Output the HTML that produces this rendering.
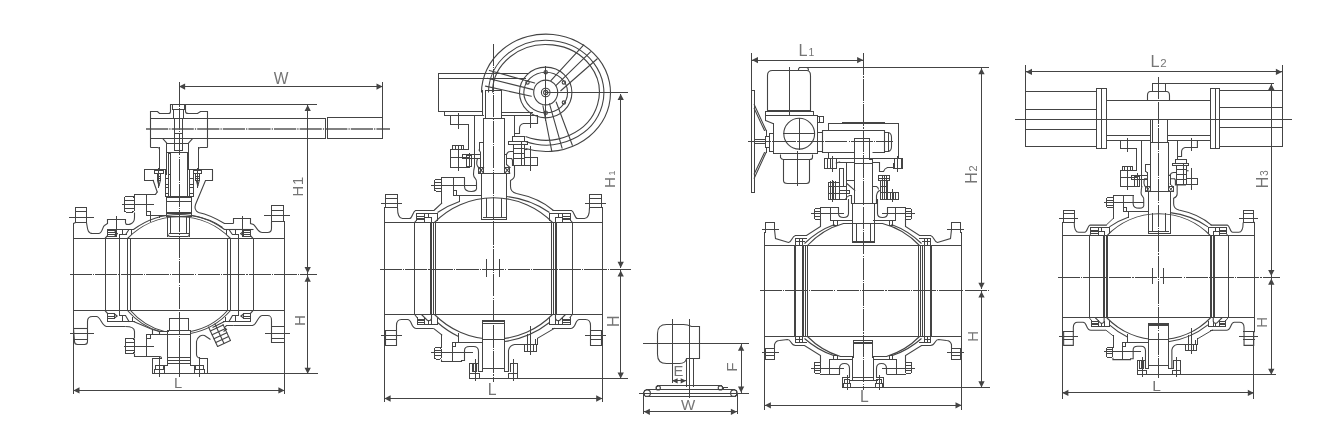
<!DOCTYPE html>
<html><head><meta charset="utf-8"><title>Ball valve dimension drawings</title>
<style>
html,body{margin:0;padding:0;background:#fff;}
body{width:1322px;height:438px;overflow:hidden;font-family:"Liberation Sans",sans-serif;}
svg{display:block;will-change:transform;}
svg *{vector-effect:none;}
.d{fill:none;stroke:#444;stroke-width:1.1;stroke-linecap:butt;stroke-linejoin:miter;}
.d line,.d rect{shape-rendering:crispEdges;stroke-width:1;vector-effect:non-scaling-stroke;stroke-linecap:square;}
.d line.dg{shape-rendering:auto;stroke-linecap:round;stroke-width:1.1;vector-effect:none;}
.d .cl{stroke-dasharray:22.2 1.1 1.2 1.1;stroke-width:1;stroke-linecap:butt;}
.d .ar{fill:#444;stroke:none;}
.d text{fill:#757575;stroke:none;font-family:"Liberation Sans",sans-serif;}
</style></head><body>
<svg width="1322" height="438" viewBox="0 0 1322 438">
<rect x="0" y="0" width="1322" height="438" fill="#fff" stroke="none"/>
<g class="d">
<line class="cl" x1="69.5" y1="274.4" x2="316.7" y2="274.4"/>
<line class="cl" x1="179" y1="82" x2="179" y2="376.5"/>
<line class="cl" x1="146" y1="128.9" x2="390" y2="128.9" style="shape-rendering:auto;stroke-width:1.5;stroke:#585858"/>
<line x1="73.4" y1="238.3" x2="284.5" y2="238.3"/>
<line x1="73.4" y1="310.7" x2="284.5" y2="310.7"/>
<line x1="73.4" y1="223.5" x2="73.4" y2="328.4"/>
<path d="M 73.5 223.5 L 75.5 222.5"/>
<rect x="75" y="207" width="11.5" height="15.4"/>
<line x1="75" y1="211.6" x2="86.5" y2="211.6"/>
<line x1="69.3" y1="217.2" x2="93" y2="217.2"/>
<path d="M 86.5 222.5 C 87.5 228.5 87.5 233.5 92.5 233.5 L 98.5 233.5 C 102.5 233.5 102.5 226.5 104.5 225.5 L 107.5 223.5 L 107.5 219.5 L 125.5 219.5 L 125.5 223.5"/>
<path d="M 73.5 328.5 L 87.5 328.5"/>
<line x1="70.1" y1="333.9" x2="93.9" y2="333.9"/>
<line x1="74" y1="339.3" x2="87.3" y2="339.3"/>
<path d="M 73.5 328.5 L 74.5 341.5 Q 74.5 344.5 77.5 344.5 L 84.5 344.5 Q 87.5 344.5 87.5 341.5 L 87.5 321.5 C 87.5 317.5 89.5 316.5 92.5 316.5 L 96.5 316.5 C 100.5 316.5 101.5 325.5 106.5 326.5 L 125.5 326.5"/>
<line x1="284.5" y1="221.6" x2="284.5" y2="342.5"/>
<rect x="271.7" y="205.5" width="11.9" height="15.8"/>
<line x1="271.7" y1="210.4" x2="283.6" y2="210.4"/>
<line x1="264.2" y1="215.6" x2="289.3" y2="215.6"/>
<line x1="283.6" y1="221.5" x2="284.5" y2="221.8"/>
<path d="M 271.5 221.5 L 271.5 228.5 C 271.5 231.5 270.5 232.5 267.5 232.5 L 262.5 232.5 C 257.5 232.5 256.5 226.5 253.5 224.5 L 250.5 223.5 L 250.5 218.5 L 233.5 218.5 L 233.5 223.5"/>
<line x1="271.3" y1="326.7" x2="284.5" y2="326.7"/>
<line x1="265" y1="333" x2="289.6" y2="333"/>
<line x1="271.3" y1="338.7" x2="284.5" y2="338.7"/>
<path d="M 284.5 342.5 L 271.5 342.5 L 271.5 320.5 C 271.5 316.5 270.5 315.5 267.5 315.5 L 262.5 315.5 C 257.5 315.5 257.5 324.5 252.5 325.5 L 233.5 325.5"/>
<line x1="105" y1="238.3" x2="105" y2="310.7"/>
<line x1="119.6" y1="238.3" x2="119.6" y2="310.7"/>
<line x1="127.5" y1="238.3" x2="127.5" y2="310.7"/>
<line x1="130.1" y1="238.3" x2="130.1" y2="310.7"/>
<line x1="105" y1="238.3" x2="107.2" y2="236" class="dg"/>
<line x1="107.2" y1="236" x2="107.2" y2="229"/>
<line x1="107.2" y1="229" x2="133.5" y2="229"/>
<rect x="107.6" y="230.6" width="7.4" height="6"/>
<line x1="107.6" y1="232.6" x2="115" y2="232.6"/>
<line x1="107.6" y1="234.6" x2="115" y2="234.6"/>
<line x1="115" y1="231.6" x2="117.3" y2="233.6" class="dg"/>
<line x1="117.3" y1="233.6" x2="115" y2="235.6" class="dg"/>
<line x1="116" y1="216.1" x2="116" y2="236"/>
<line x1="119.6" y1="238.3" x2="119.6" y2="234"/>
<line x1="119.6" y1="234" x2="126" y2="234"/>
<line x1="126" y1="234" x2="128.5" y2="230.2" class="dg"/>
<line x1="122.5" y1="229" x2="122.5" y2="234"/>
<line x1="131.5" y1="229.6" x2="131.5" y2="234.5"/>
<line x1="105" y1="310.7" x2="107.2" y2="313" class="dg"/>
<line x1="107.2" y1="313" x2="107.2" y2="321.6"/>
<line x1="107.2" y1="321.6" x2="134.7" y2="321.6"/>
<rect x="107.6" y="313.7" width="6.6" height="4.6"/>
<line x1="107.6" y1="316" x2="114.2" y2="316"/>
<line x1="114.2" y1="313.7" x2="117" y2="316" class="dg"/>
<line x1="117" y1="316" x2="114.2" y2="318.3" class="dg"/>
<line x1="119.6" y1="310.7" x2="119.6" y2="315.5"/>
<line x1="119.6" y1="315.5" x2="125.5" y2="315.5"/>
<line x1="125.5" y1="315.5" x2="129" y2="321.6" class="dg"/>
<line x1="122.5" y1="315.5" x2="122.5" y2="321.6"/>
<line x1="132.6" y1="317.5" x2="132.6" y2="321.6"/>
<g transform="matrix(-1 0 0 1 358 0)">
<line x1="105" y1="238.3" x2="105" y2="310.7"/>
<line x1="119.6" y1="238.3" x2="119.6" y2="310.7"/>
<line x1="127.5" y1="238.3" x2="127.5" y2="310.7"/>
<line x1="130.1" y1="238.3" x2="130.1" y2="310.7"/>
<line x1="105" y1="238.3" x2="107.2" y2="236" class="dg"/>
<line x1="107.2" y1="236" x2="107.2" y2="229"/>
<line x1="107.2" y1="229" x2="133.5" y2="229"/>
<rect x="107.6" y="230.6" width="7.4" height="6"/>
<line x1="107.6" y1="232.6" x2="115" y2="232.6"/>
<line x1="107.6" y1="234.6" x2="115" y2="234.6"/>
<line x1="115" y1="231.6" x2="117.3" y2="233.6" class="dg"/>
<line x1="117.3" y1="233.6" x2="115" y2="235.6" class="dg"/>
<line x1="116" y1="216.1" x2="116" y2="236"/>
<line x1="119.6" y1="238.3" x2="119.6" y2="234"/>
<line x1="119.6" y1="234" x2="126" y2="234"/>
<line x1="126" y1="234" x2="128.5" y2="230.2" class="dg"/>
<line x1="122.5" y1="229" x2="122.5" y2="234"/>
<line x1="131.5" y1="229.6" x2="131.5" y2="234.5"/>
<line x1="105" y1="310.7" x2="107.2" y2="313" class="dg"/>
<line x1="107.2" y1="313" x2="107.2" y2="321.6"/>
<line x1="107.2" y1="321.6" x2="134.7" y2="321.6"/>
<rect x="107.6" y="313.7" width="6.6" height="4.6"/>
<line x1="107.6" y1="316" x2="114.2" y2="316"/>
<line x1="114.2" y1="313.7" x2="117" y2="316" class="dg"/>
<line x1="117" y1="316" x2="114.2" y2="318.3" class="dg"/>
<line x1="119.6" y1="310.7" x2="119.6" y2="315.5"/>
<line x1="119.6" y1="315.5" x2="125.5" y2="315.5"/>
<line x1="125.5" y1="315.5" x2="129" y2="321.6" class="dg"/>
<line x1="122.5" y1="315.5" x2="122.5" y2="321.6"/>
<line x1="132.6" y1="317.5" x2="132.6" y2="321.6"/>
</g>
<path d="M 127.5 238.5 A 72 72 0 0 1 230.5 238.5"/>
<path d="M 133.5 229.5 A 76.5 76.5 0 0 1 224.5 229.5"/>
<path d="M 127.5 310.5 A 68 68 0 0 0 159.5 331.5"/>
<path d="M 130.5 310.5 A 66 66 0 0 0 164.5 331.5"/>
<path d="M 230.5 310.5 A 70 70 0 0 1 190.5 333.5"/>
<path d="M 227.5 310.5 A 66 66 0 0 1 190.5 331.5"/>
<path d="M 133.5 321.5 L 152.5 329.5 L 152.5 334.5 L 146.5 334.5"/>
<path d="M 152.5 329.5 L 159.5 331.5 L 159.5 334.5"/>
<line x1="152.9" y1="334.8" x2="168" y2="334.8"/>
<line x1="159.8" y1="331.4" x2="168" y2="331.4"/>
<path d="M 224.5 321.5 L 212.5 327.5"/>
<path d="M 125.5 223.5 C 127.5 225.5 134.5 224.5 134.5 217.5 L 134.5 212.5"/>
<rect x="124.4" y="196.4" width="9.8" height="15.7" rx="2"/>
<line x1="124.4" y1="200" x2="134.2" y2="200"/>
<line x1="124.4" y1="208.5" x2="134.2" y2="208.5"/>
<line x1="122.9" y1="204.4" x2="153" y2="204.4"/>
<line x1="134.2" y1="196.4" x2="134.2" y2="194.4"/>
<line x1="134.2" y1="194.4" x2="155.5" y2="194.4"/>
<line x1="146.8" y1="194.4" x2="146.8" y2="215.5"/>
<rect x="146.8" y="211.4" width="3.5" height="4.1"/>
<line x1="146.8" y1="215.5" x2="166.6" y2="215.5"/>
<line x1="150.3" y1="215.5" x2="150.3" y2="221"/>
<line x1="159.5" y1="215.5" x2="159.5" y2="217.8"/>
<path d="M 233.5 223.5 L 224.5 223.5 C 214.5 217.5 203.5 213.5 198.5 212.5 C 194.5 210.5 194.5 207.5 195.5 204.5 L 205.5 180.5 L 212.5 180.5 L 212.5 169.5"/>
<path d="M 253.5 229.5 L 224.5 229.5"/>
<path d="M 191.5 215.5 C 203.5 217.5 214.5 221.5 222.5 227.5"/>
<line x1="212.7" y1="169.5" x2="188.5" y2="169.5"/>
<line x1="166.8" y1="169.5" x2="144.4" y2="169.5"/>
<line x1="144.4" y1="169.5" x2="144.4" y2="180.2"/>
<line x1="144.4" y1="180.2" x2="153.1" y2="180.2"/>
<line x1="153.1" y1="180.2" x2="157.2" y2="192" class="dg"/>
<line x1="157.2" y1="192" x2="155.5" y2="194.4" class="dg"/>
<line x1="159.4" y1="147.4" x2="159.4" y2="169.5"/>
<line x1="198.2" y1="147.4" x2="198.2" y2="169.5"/>
<rect x="154.3" y="170" width="9.1" height="3.8"/>
<rect x="157" y="173.8" width="3.9" height="6.5"/>
<line x1="157.5" y1="180.3" x2="158.95" y2="185.8" class="dg"/>
<line x1="158.95" y1="185.8" x2="160.4" y2="180.3" class="dg"/>
<line x1="158.95" y1="168" x2="158.95" y2="187"/>
<line x1="157" y1="176" x2="160.9" y2="176"/>
<line x1="157" y1="178" x2="160.9" y2="178"/>
<rect x="193.6" y="170" width="8" height="3.8"/>
<rect x="195.8" y="173.8" width="4" height="6.5"/>
<line x1="196.3" y1="180.3" x2="197.8" y2="185.8" class="dg"/>
<line x1="197.8" y1="185.8" x2="199.3" y2="180.3" class="dg"/>
<line x1="197.8" y1="168" x2="197.8" y2="187"/>
<line x1="195.8" y1="176" x2="199.8" y2="176"/>
<line x1="195.8" y1="178" x2="199.8" y2="178"/>
<line x1="165" y1="169.5" x2="165" y2="196.6"/>
<line x1="193.2" y1="169.5" x2="193.2" y2="196.6"/>
<line x1="165" y1="178.5" x2="168.5" y2="178.5"/>
<line x1="165" y1="184.5" x2="168.5" y2="184.5"/>
<line x1="165" y1="187.5" x2="168.5" y2="187.5"/>
<line x1="165" y1="193.5" x2="168.5" y2="193.5"/>
<line x1="189.5" y1="178.5" x2="193.2" y2="178.5"/>
<line x1="189.5" y1="184.5" x2="193.2" y2="184.5"/>
<line x1="189.5" y1="187.5" x2="193.2" y2="187.5"/>
<line x1="189.5" y1="193.5" x2="193.2" y2="193.5"/>
<line x1="168.5" y1="174" x2="168.5" y2="196.6"/>
<line x1="189.5" y1="169.5" x2="189.5" y2="196.6"/>
<line x1="170.8" y1="152" x2="170.8" y2="196.6"/>
<line x1="187.6" y1="152" x2="187.6" y2="196.6"/>
<line x1="165" y1="196.6" x2="193.2" y2="196.6"/>
<rect x="168.5" y="153.1" width="2.3" height="21"/>
<line x1="166.8" y1="143.2" x2="166.8" y2="174.2"/>
<line x1="188.5" y1="143.2" x2="188.5" y2="169.5"/>
<line x1="166.8" y1="152" x2="188.5" y2="152"/>
<rect x="166.6" y="197.3" width="24.8" height="16.5"/>
<line x1="166.6" y1="201.3" x2="191.4" y2="201.3"/>
<line x1="166.6" y1="212.7" x2="191.4" y2="212.7"/>
<rect x="166.6" y="213.8" width="24.8" height="2.9"/>
<line x1="167.7" y1="216.7" x2="167.7" y2="236.7"/>
<line x1="189.7" y1="216.7" x2="189.7" y2="236.7"/>
<line x1="170.8" y1="216.7" x2="170.8" y2="233.5"/>
<line x1="186.4" y1="216.7" x2="186.4" y2="233.5"/>
<path d="M 167.5 232.5 Q 167.5 236.5 170.5 236.5 L 187.5 236.5 Q 189.5 236.5 189.5 232.5"/>
<line x1="169" y1="233.5" x2="188.4" y2="233.5"/>
<path d="M 150.5 147.5 L 150.5 111.5 L 157.5 111.5 L 159.5 113.5 L 168.5 113.5 Q 170.5 113.5 170.5 111.5 L 170.5 104.5 L 185.5 104.5 L 185.5 111.5 Q 185.5 113.5 188.5 113.5 L 197.5 113.5 L 200.5 111.5 L 207.5 111.5 L 207.5 147.5"/>
<path d="M 150.5 147.5 L 157.5 147.5 Q 159.5 147.5 159.5 149.5"/>
<path d="M 207.5 147.5 L 200.5 147.5 Q 198.5 147.5 198.5 149.5"/>
<line x1="150" y1="118.8" x2="325.4" y2="118.8"/>
<line x1="150" y1="138.7" x2="325.4" y2="138.7"/>
<line x1="325.4" y1="118.8" x2="325.4" y2="138.7"/>
<rect x="327.6" y="117.8" width="55.3" height="20.6"/>
<line x1="162.8" y1="138.7" x2="166.8" y2="143.2" class="dg"/>
<line x1="166.8" y1="143.2" x2="188.5" y2="143.2"/>
<line x1="188.5" y1="143.2" x2="192.5" y2="138.7" class="dg"/>
<line x1="172.4" y1="104.6" x2="172.4" y2="109.8"/>
<line x1="172.4" y1="109.8" x2="184.3" y2="109.8"/>
<line x1="184.3" y1="109.8" x2="184.3" y2="104.6"/>
<line x1="173.6" y1="109.8" x2="173.6" y2="118.6"/>
<line x1="173.6" y1="118.6" x2="183" y2="118.6"/>
<line x1="183" y1="118.6" x2="183" y2="109.8"/>
<line x1="174.8" y1="118.6" x2="174.8" y2="150.5"/>
<line x1="182.3" y1="118.6" x2="182.3" y2="150.5"/>
<line x1="174.8" y1="150.5" x2="182.3" y2="150.5"/>
<line x1="174.8" y1="133" x2="182.3" y2="133"/>
<line x1="170.5" y1="104.6" x2="316.7" y2="104.6"/>
<rect x="169.6" y="318.6" width="18.8" height="12.2"/>
<line x1="167.3" y1="330.8" x2="190.6" y2="330.8"/>
<line x1="167.3" y1="330.8" x2="167.3" y2="365.3"/>
<line x1="190.6" y1="330.8" x2="190.6" y2="365.3"/>
<line x1="167.3" y1="334.9" x2="190.6" y2="334.9"/>
<line x1="167.3" y1="357.3" x2="190.6" y2="357.3"/>
<line x1="167.3" y1="360.3" x2="190.6" y2="360.3"/>
<line x1="167.3" y1="363" x2="190.6" y2="363"/>
<line x1="161.3" y1="358.4" x2="152.5" y2="358.4"/>
<line x1="152.5" y1="358.4" x2="152.5" y2="373.8"/>
<line x1="167.3" y1="365.3" x2="164" y2="365.3"/>
<line x1="164" y1="365.3" x2="164" y2="373.8"/>
<line x1="190.6" y1="365.3" x2="194.8" y2="365.3"/>
<line x1="194.8" y1="365.3" x2="194.8" y2="373.8"/>
<line x1="200" y1="358.4" x2="207.4" y2="358.4"/>
<line x1="207.4" y1="358.4" x2="207.4" y2="373.8"/>
<line x1="152.5" y1="373.8" x2="317.4" y2="373.8"/>
<rect x="155.7" y="365.6" width="7.4" height="3.6"/>
<rect x="154.1" y="369.2" width="10.6" height="4.2"/>
<line x1="159.4" y1="357.3" x2="159.4" y2="376.7"/>
<rect x="195.9" y="365.6" width="7.4" height="3.6"/>
<rect x="194.3" y="369.2" width="10.6" height="4.2"/>
<line x1="199.6" y1="357.3" x2="199.6" y2="376.7"/>
<path d="M 125.5 326.5 C 131.5 326.5 134.5 327.5 134.5 331.5 L 134.5 338.5"/>
<rect x="125.2" y="338.4" width="9" height="15.4" rx="2"/>
<line x1="125.2" y1="342" x2="134.2" y2="342"/>
<line x1="125.2" y1="350.2" x2="134.2" y2="350.2"/>
<line x1="124.4" y1="346.2" x2="153.6" y2="346.2"/>
<path d="M 134.5 353.5 L 134.5 356.5 L 159.5 356.5 Q 161.5 356.5 161.5 358.5"/>
<line x1="146.7" y1="334.8" x2="146.7" y2="356.1"/>
<rect x="146.7" y="334.8" width="3.8" height="3.8"/>
<path d="M 207.5 358.5 L 200.5 358.5 Q 196.5 357.5 196.5 354.5 L 196.5 341.5 C 197.5 336.5 201.5 334.5 204.5 335.5 L 210.5 339.5"/>
<path d="M 233.5 325.5 L 226.5 325.5 L 224.5 327.5 L 226.5 329.5 L 223.5 331.5"/>
<line x1="208.5" y1="327" x2="217.59" y2="346.49" class="dg"/>
<line x1="217.59" y1="346.49" x2="230.46" y2="340.48" class="dg"/>
<line x1="230.46" y1="340.48" x2="223.06" y2="324.62" class="dg"/>
<line x1="214.93" y1="324" x2="224.02" y2="343.49" class="dg"/>
<line x1="210.32" y1="330.9" x2="223.19" y2="324.9" class="dg"/>
<line x1="212.13" y1="334.79" x2="225" y2="328.79" class="dg"/>
<line x1="213.95" y1="338.69" x2="226.82" y2="332.69" class="dg"/>
<line x1="215.77" y1="342.59" x2="228.64" y2="336.59" class="dg"/>
<line x1="179" y1="82" x2="179" y2="104"/>
<line x1="382.6" y1="82" x2="382.6" y2="138.4"/>
<line x1="179" y1="86.6" x2="382.6" y2="86.6"/>
<polygon class="ar" points="179,86.6 185.1,83.45 185.1,89.75"/>
<polygon class="ar" points="382.6,86.6 376.5,83.45 376.5,89.75"/>
<text transform="translate(281.2 84) scale(0.95 1)" font-size="16.4" text-anchor="middle">W</text>
<line x1="307.7" y1="105" x2="307.7" y2="273.2"/>
<polygon class="ar" points="307.7,105 304.55,111.1 310.85,111.1"/>
<polygon class="ar" points="307.7,273.2 304.55,267.1 310.85,267.1"/>
<line x1="307.7" y1="275.7" x2="307.7" y2="373.8"/>
<polygon class="ar" points="307.7,275.7 304.55,281.8 310.85,281.8"/>
<polygon class="ar" points="307.7,373.8 304.55,367.7 310.85,367.7"/>
<text transform="translate(302.8 191.2) rotate(-90) scale(1 1)" font-size="14.7" text-anchor="middle">H</text>
<text transform="translate(302.8 180.9) rotate(-90)" font-size="14.7" text-anchor="middle">1</text>
<text transform="translate(305.1 320.4) rotate(-90) scale(1 1)" font-size="15.2" text-anchor="middle">H</text>
<line x1="73.4" y1="328.4" x2="73.4" y2="393.4"/>
<line x1="284.5" y1="342.5" x2="284.5" y2="393.4"/>
<line x1="73.4" y1="390.4" x2="284.5" y2="390.4"/>
<polygon class="ar" points="73.4,390.4 79.5,387.25 79.5,393.55"/>
<polygon class="ar" points="284.5,390.4 278.4,387.25 278.4,393.55"/>
<text transform="translate(178 388) scale(1 1)" font-size="14.7" text-anchor="middle">L</text>
<g>
<line x1="384.5" y1="222.3" x2="602.3" y2="222.3"/>
<line x1="384.5" y1="314.5" x2="602.3" y2="314.5"/>
<line x1="384.5" y1="207.5" x2="384.5" y2="330.3"/>
<rect x="385.5" y="194" width="11.8" height="13.5"/>
<line x1="385.5" y1="198" x2="397.3" y2="198"/>
<line x1="381.3" y1="203.3" x2="401.5" y2="203.3"/>
<path d="M 384.5 207.5 L 385.5 207.5"/>
<path d="M 397.5 207.5 C 397.5 213.5 398.5 218.5 402.5 218.5 L 409.5 218.5 C 412.5 218.5 412.5 211.5 415.5 210.5 L 434.5 210.5"/>
<line x1="384.5" y1="330.3" x2="396.7" y2="330.3"/>
<line x1="381.3" y1="335.5" x2="401.5" y2="335.5"/>
<line x1="385" y1="339.3" x2="396.7" y2="339.3"/>
<path d="M 384.5 330.5 L 385.5 330.5 L 385.5 345.5 L 396.5 345.5 L 396.5 325.5 C 396.5 321.5 398.5 319.5 401.5 319.5 L 407.5 319.5 C 412.5 319.5 410.5 328.5 416.5 328.5 L 433.5 328.5"/>
<line x1="414.7" y1="222.3" x2="414.7" y2="314.5"/>
<line x1="430.4" y1="222.3" x2="430.4" y2="314.5"/>
<line x1="431.7" y1="222.3" x2="431.7" y2="314.5"/>
<line x1="433.8" y1="222.3" x2="433.8" y2="314.5"/>
<line x1="435.1" y1="222.3" x2="435.1" y2="314.5"/>
<line x1="414.7" y1="222.3" x2="416.3" y2="220.5" class="dg"/>
<line x1="416.3" y1="220.5" x2="416.3" y2="213.3"/>
<line x1="416.3" y1="213.3" x2="437.2" y2="213.3"/>
<line x1="437.2" y1="213.3" x2="437.2" y2="220"/>
<line x1="416.6" y1="216.2" x2="424.7" y2="216.2"/>
<line x1="416.6" y1="218" x2="424.7" y2="218"/>
<line x1="416.6" y1="219.8" x2="424.7" y2="219.8"/>
<line x1="424.7" y1="213.3" x2="424.7" y2="222.3"/>
<line x1="424.7" y1="217.3" x2="431.5" y2="217.3"/>
<line x1="431.5" y1="217.3" x2="431.5" y2="222.3"/>
<line x1="428.5" y1="213.3" x2="428.5" y2="217.3"/>
<line x1="414.7" y1="314.5" x2="417" y2="317.5" class="dg"/>
<line x1="417" y1="317.5" x2="417" y2="324.4"/>
<line x1="417" y1="324.4" x2="437.2" y2="324.4"/>
<line x1="437.2" y1="324.4" x2="437.2" y2="318.5"/>
<line x1="417" y1="319" x2="424.7" y2="319"/>
<line x1="417" y1="320.8" x2="424.7" y2="320.8"/>
<line x1="417" y1="322.6" x2="424.7" y2="322.6"/>
<line x1="424.7" y1="317.5" x2="424.7" y2="324.4"/>
<path d="M 421.5 314.5 L 424.5 317.5 L 427.5 320.5 Q 430.5 321.5 431.5 318.5 L 431.5 314.5"/>
<line x1="428.5" y1="320.6" x2="428.5" y2="324.4"/>
<line x1="431.7" y1="318.5" x2="431.7" y2="324.4"/>
<g transform="matrix(-1 0 0 1 987 0)">
<line x1="384.5" y1="207.5" x2="384.5" y2="330.3"/>
<rect x="385.5" y="194" width="11.8" height="13.5"/>
<line x1="385.5" y1="198" x2="397.3" y2="198"/>
<line x1="381.3" y1="203.3" x2="401.5" y2="203.3"/>
<path d="M 384.5 207.5 L 385.5 207.5"/>
<path d="M 397.5 207.5 C 397.5 213.5 398.5 218.5 402.5 218.5 L 409.5 218.5 C 412.5 218.5 412.5 211.5 415.5 210.5 L 434.5 210.5"/>
<line x1="384.5" y1="330.3" x2="396.7" y2="330.3"/>
<line x1="381.3" y1="335.5" x2="401.5" y2="335.5"/>
<line x1="385" y1="339.3" x2="396.7" y2="339.3"/>
<path d="M 384.5 330.5 L 385.5 330.5 L 385.5 345.5 L 396.5 345.5 L 396.5 325.5 C 396.5 321.5 398.5 319.5 401.5 319.5 L 407.5 319.5 C 412.5 319.5 410.5 328.5 416.5 328.5 L 433.5 328.5"/>
<line x1="414.7" y1="222.3" x2="414.7" y2="314.5"/>
<line x1="430.4" y1="222.3" x2="430.4" y2="314.5"/>
<line x1="431.7" y1="222.3" x2="431.7" y2="314.5"/>
<line x1="433.8" y1="222.3" x2="433.8" y2="314.5"/>
<line x1="435.1" y1="222.3" x2="435.1" y2="314.5"/>
<line x1="414.7" y1="222.3" x2="416.3" y2="220.5" class="dg"/>
<line x1="416.3" y1="220.5" x2="416.3" y2="213.3"/>
<line x1="416.3" y1="213.3" x2="437.2" y2="213.3"/>
<line x1="437.2" y1="213.3" x2="437.2" y2="220"/>
<line x1="416.6" y1="216.2" x2="424.7" y2="216.2"/>
<line x1="416.6" y1="218" x2="424.7" y2="218"/>
<line x1="416.6" y1="219.8" x2="424.7" y2="219.8"/>
<line x1="424.7" y1="213.3" x2="424.7" y2="222.3"/>
<line x1="424.7" y1="217.3" x2="431.5" y2="217.3"/>
<line x1="431.5" y1="217.3" x2="431.5" y2="222.3"/>
<line x1="428.5" y1="213.3" x2="428.5" y2="217.3"/>
<line x1="414.7" y1="314.5" x2="417" y2="317.5" class="dg"/>
<line x1="417" y1="317.5" x2="417" y2="324.4"/>
<line x1="417" y1="324.4" x2="437.2" y2="324.4"/>
<line x1="437.2" y1="324.4" x2="437.2" y2="318.5"/>
<line x1="417" y1="319" x2="424.7" y2="319"/>
<line x1="417" y1="320.8" x2="424.7" y2="320.8"/>
<line x1="417" y1="322.6" x2="424.7" y2="322.6"/>
<line x1="424.7" y1="317.5" x2="424.7" y2="324.4"/>
<path d="M 421.5 314.5 L 424.5 317.5 L 427.5 320.5 Q 430.5 321.5 431.5 318.5 L 431.5 314.5"/>
<line x1="428.5" y1="320.6" x2="428.5" y2="324.4"/>
<line x1="431.7" y1="318.5" x2="431.7" y2="324.4"/>
</g>
<line x1="486.8" y1="259" x2="486.8" y2="276.6"/>
<line x1="499.3" y1="259" x2="499.3" y2="276.6"/>
<path d="M 434.5 222.5 A 82.8 82.8 0 0 1 552.5 222.5"/>
<path d="M 434.5 314.5 A 82.8 82.8 0 0 0 552.5 314.5"/>
<line x1="434.4" y1="210" x2="441.8" y2="203.1" class="dg"/>
<line x1="441.8" y1="203.1" x2="441.8" y2="191.1"/>
<rect x="434.4" y="179.7" width="7.4" height="11.4" rx="1.5"/>
<line x1="434.4" y1="182.5" x2="441.8" y2="182.5"/>
<line x1="434.4" y1="188.3" x2="441.8" y2="188.3"/>
<line x1="431.9" y1="185.3" x2="476.6" y2="185.3"/>
<line x1="441.8" y1="179.7" x2="441.8" y2="177.4"/>
<line x1="441.8" y1="177.4" x2="464.6" y2="177.4"/>
<line x1="453.2" y1="177.4" x2="453.2" y2="195.3"/>
<rect x="453.2" y="190.6" width="3.4" height="4.7"/>
<line x1="453.2" y1="195.3" x2="481.5" y2="195.3"/>
<line x1="459.5" y1="195.3" x2="459.5" y2="201.5"/>
<rect x="482.3" y="320.4" width="22.5" height="48" fill="#fff" stroke="none"/>
<line x1="482.3" y1="368.3" x2="482.3" y2="320.4"/>
<line x1="482.3" y1="320.4" x2="504.8" y2="320.4"/>
<line x1="504.8" y1="320.4" x2="504.8" y2="368.3"/>
<line x1="482.3" y1="321.8" x2="504.8" y2="321.8"/>
<line x1="482.3" y1="323.5" x2="504.8" y2="323.5"/>
<line x1="482.3" y1="339.3" x2="504.8" y2="339.3"/>
<line x1="482.3" y1="368.3" x2="504.8" y2="368.3"/>
<line x1="433.8" y1="328.6" x2="441.8" y2="334.9" class="dg"/>
<line x1="441.8" y1="334.9" x2="441.8" y2="347.6"/>
<rect x="434.6" y="347.6" width="6.6" height="11.4" rx="1.5"/>
<line x1="434.6" y1="350.4" x2="441.2" y2="350.4"/>
<line x1="434.6" y1="355" x2="441.2" y2="355"/>
<line x1="431.7" y1="352.7" x2="472.8" y2="352.7"/>
<path d="M 441.5 359.5 L 441.5 361.5 L 461.5 361.5 L 461.5 360.5 L 464.5 360.5 L 464.5 350.5 Q 464.5 346.5 469.5 346.5 L 473.5 346.5 Q 478.5 346.5 478.5 351.5 L 478.5 371.5"/>
<line x1="458.4" y1="333.8" x2="458.4" y2="342.2"/>
<path d="M 437.5 212.5 A 94.3 94.3 0 0 1 459.5 201.5"/>
<path d="M 549.5 212.5 A 94.3 94.3 0 0 0 506.5 196.5"/>
<path d="M 437.5 322.5 A 94.3 94.3 0 0 0 458.5 336.5"/>
<path d="M 549.5 322.5 A 94.3 94.3 0 0 1 504.5 341.5"/>
<line x1="452.3" y1="342.2" x2="482.3" y2="342.2"/>
<line x1="452.3" y1="342.2" x2="452.3" y2="361.3"/>
<rect x="452.3" y="342.2" width="3.6" height="4.4"/>
<line x1="478" y1="363" x2="469.4" y2="363"/>
<line x1="469.4" y1="363" x2="469.4" y2="378.7"/>
<line x1="478" y1="371.5" x2="482.3" y2="371.5"/>
<line x1="482.3" y1="368.3" x2="482.3" y2="371.5"/>
<line x1="504.8" y1="368.3" x2="504.8" y2="371.5"/>
<line x1="504.8" y1="371.5" x2="508.8" y2="371.5"/>
<rect x="472.2" y="363" width="4.6" height="8.5"/>
<line x1="473.7" y1="363" x2="473.7" y2="371.5"/>
<line x1="475.2" y1="363" x2="475.2" y2="371.5"/>
<rect x="469.4" y="373.8" width="10.3" height="4.9"/>
<line x1="475.1" y1="359" x2="475.1" y2="380.7"/>
<path d="M 508.5 371.5 L 508.5 350.5 Q 509.5 345.5 514.5 344.5 L 524.5 344.5"/>
<line x1="510.5" y1="363" x2="517.9" y2="363"/>
<line x1="517.9" y1="363" x2="517.9" y2="378.7"/>
<line x1="510.5" y1="363" x2="510.5" y2="371.5"/>
<rect x="508.8" y="373.8" width="9.1" height="4.9"/>
<line x1="513.4" y1="359" x2="513.4" y2="380.7"/>
<line x1="469.4" y1="378.7" x2="517.9" y2="378.7"/>
<line x1="552.2" y1="328.6" x2="554.4" y2="328.4"/>
<line x1="554.4" y1="328.4" x2="537.8" y2="338.1" class="dg"/>
<line x1="537.8" y1="338.1" x2="537.8" y2="344.4"/>
<line x1="527.2" y1="334.5" x2="527.2" y2="344.4"/>
<line x1="535" y1="339.5" x2="535" y2="344.4"/>
<rect x="524.1" y="344.4" width="12.6" height="7.4" rx="1.5"/>
<line x1="527.2" y1="344.4" x2="527.2" y2="351.8"/>
<line x1="533.6" y1="344.4" x2="533.6" y2="351.8"/>
<line x1="530.4" y1="326.1" x2="530.4" y2="354.1"/>
</g>
<line class="cl" x1="379.5" y1="269.1" x2="631.2" y2="269.1"/>
<line class="cl" x1="493.3" y1="43.8" x2="493.3" y2="381.5"/>
<line x1="482" y1="111.5" x2="438.3" y2="111.5"/>
<line x1="438.3" y1="111.5" x2="438.3" y2="73.4"/>
<line x1="438.3" y1="73.4" x2="527" y2="73.4"/>
<line x1="438.3" y1="78.2" x2="525.5" y2="78.2"/>
<line x1="482" y1="90.3" x2="482" y2="115.4"/>
<line x1="444.3" y1="111.5" x2="444.3" y2="115.4"/>
<line x1="444.3" y1="115.4" x2="483.7" y2="115.4"/>
<line x1="502.5" y1="112.3" x2="532" y2="112.3"/>
<line x1="502.5" y1="115.4" x2="537.9" y2="115.4"/>
<line x1="485" y1="118" x2="485" y2="90.3"/>
<line x1="485" y1="90.3" x2="501.8" y2="90.3"/>
<line x1="501.8" y1="90.3" x2="501.8" y2="118"/>
<line x1="450.6" y1="115.4" x2="450.6" y2="124.5"/>
<line x1="450.6" y1="124.5" x2="468.8" y2="124.5"/>
<line x1="468.8" y1="124.5" x2="468.8" y2="149.7"/>
<line x1="468.8" y1="149.7" x2="450.6" y2="149.7"/>
<line x1="450.6" y1="149.7" x2="450.6" y2="167.4"/>
<line x1="450.6" y1="167.4" x2="468.8" y2="167.4"/>
<line x1="474" y1="115.4" x2="474" y2="166.8"/>
<line x1="458.2" y1="113" x2="458.2" y2="128"/>
<path d="M 537.5 115.5 L 537.5 123.5 L 523.5 123.5 Q 519.5 124.5 519.5 128.5 L 519.5 133.5 L 514.5 133.5"/>
<line x1="514.7" y1="115.4" x2="514.7" y2="136.5"/>
<line x1="530.5" y1="113.5" x2="530.5" y2="127"/>
<line x1="483.7" y1="118" x2="504.8" y2="118"/>
<line x1="483.7" y1="118" x2="483.7" y2="173.1"/>
<line x1="504.8" y1="118" x2="504.8" y2="173.1"/>
<line x1="483.7" y1="173.1" x2="504.8" y2="173.1"/>
<line x1="483.7" y1="142" x2="479" y2="142"/>
<line x1="479" y1="142" x2="479" y2="150"/>
<line x1="479" y1="150" x2="480.3" y2="152" class="dg"/>
<line x1="480.3" y1="152" x2="480.3" y2="173.1"/>
<line x1="478.6" y1="173.1" x2="509.9" y2="173.1"/>
<line x1="478.6" y1="167.4" x2="478.6" y2="173.1"/>
<line x1="509.9" y1="167.4" x2="509.9" y2="173.1"/>
<line x1="478.6" y1="167.4" x2="483.7" y2="167.4"/>
<line x1="504.8" y1="167.4" x2="509.9" y2="167.4"/>
<line x1="478.6" y1="167.4" x2="483.7" y2="173.1" class="dg"/>
<line x1="483.7" y1="167.4" x2="478.6" y2="173.1" class="dg"/>
<line x1="504.8" y1="167.4" x2="509.9" y2="173.1" class="dg"/>
<line x1="509.9" y1="167.4" x2="504.8" y2="173.1" class="dg"/>
<line x1="504.8" y1="154.8" x2="506.5" y2="154.8"/>
<line x1="506.5" y1="154.8" x2="506.5" y2="164.5"/>
<line x1="506.5" y1="164.5" x2="509.9" y2="167.4" class="dg"/>
<rect x="462.5" y="154.8" width="17.8" height="4"/>
<rect x="466.5" y="155.8" width="5.2" height="11"/>
<line x1="469.1" y1="153" x2="469.1" y2="167.4"/>
<path d="M 480.5 158.5 L 477.5 158.5 Q 475.5 164.5 478.5 167.5"/>
<rect x="452.3" y="145.1" width="11.4" height="4.6"/>
<line x1="455" y1="145.1" x2="455" y2="149.7"/>
<line x1="458" y1="145.1" x2="458" y2="149.7"/>
<line x1="461" y1="145.1" x2="461" y2="149.7"/>
<line x1="458" y1="149.7" x2="458" y2="170.2"/>
<line x1="450.6" y1="157.1" x2="468.8" y2="157.1"/>
<rect x="512.4" y="136.5" width="12.4" height="4.6"/>
<rect x="508.8" y="141.1" width="18.2" height="3"/>
<rect x="513.9" y="144.1" width="10.9" height="21"/>
<line x1="521.3" y1="141.1" x2="521.3" y2="165.1"/>
<line x1="513.9" y1="148.6" x2="524.8" y2="148.6"/>
<line x1="513.9" y1="153.7" x2="524.8" y2="153.7"/>
<line x1="513.9" y1="158.8" x2="524.8" y2="158.8"/>
<rect x="524.8" y="157.7" width="13.1" height="7.4"/>
<line x1="530.3" y1="146.8" x2="530.3" y2="170.2"/>
<path d="M 504.5 154.5 L 506.5 154.5 Q 507.5 151.5 510.5 151.5 L 513.5 151.5"/>
<path d="M 524.5 149.5 L 527.5 149.5"/>
<path d="M 506.5 158.5 L 511.5 158.5 Q 512.5 159.5 512.5 160.5 L 512.5 165.5 L 524.5 165.5"/>
<path d="M 474.5 166.5 Q 473.5 170.5 473.5 174.5 C 473.5 178.5 477.5 178.5 476.5 182.5 L 476.5 186.5 Q 477.5 191.5 471.5 191.5 Q 464.5 191.5 464.5 186.5 L 464.5 177.5"/>
<path d="M 514.5 165.5 L 514.5 175.5 Q 514.5 178.5 510.5 180.5 L 510.5 186.5 C 510.5 190.5 512.5 192.5 516.5 193.5 C 531.5 196.5 545.5 203.5 553.5 210.5"/>
<line x1="481.5" y1="173.1" x2="481.5" y2="219.5"/>
<line x1="506.5" y1="173.1" x2="506.5" y2="219.5"/>
<line x1="486.3" y1="198" x2="486.3" y2="217.5"/>
<line x1="501.5" y1="198" x2="501.5" y2="217.5"/>
<line x1="481.5" y1="219.5" x2="506.5" y2="219.5"/>
<line x1="483" y1="217.5" x2="505" y2="217.5"/>
<path d="M 481.5 92.5 A 64.50 58.70 0 1 1 525.5 148.5"/>
<path d="M 488.5 92.5 A 57.70 52.30 0 1 1 525.5 141.5"/>
<path d="M 492.5 92.5 A 53.40 47.80 0 1 1 525.5 136.5"/>
<ellipse cx="545.7" cy="92.5" rx="26.2" ry="25.4"/>
<ellipse cx="545.7" cy="92.5" rx="21.9" ry="20.2"/>
<ellipse cx="545.7" cy="92.5" rx="12" ry="12.4"/>
<circle cx="545.7" cy="92.5" r="4.3"/>
<circle cx="545.7" cy="92.5" r="2.1"/>
<circle cx="545.7" cy="72.3" r="1.7"/>
<circle cx="563.89" cy="82.4" r="1.7"/>
<circle cx="563.89" cy="102.6" r="1.7"/>
<circle cx="545.7" cy="112.7" r="1.7"/>
<circle cx="527.51" cy="82.4" r="1.7"/>
<line x1="550.87" y1="80.61" x2="583.76" y2="44.88" class="dg"/>
<line x1="555.82" y1="85.69" x2="590.54" y2="51.82" class="dg"/>
<line x1="560.78" y1="90.77" x2="597.31" y2="58.76" class="dg"/>
<line x1="556.18" y1="102" x2="572.37" y2="145.23" class="dg"/>
<line x1="549.54" y1="103.88" x2="562.07" y2="148.15" class="dg"/>
<line x1="542.91" y1="105.76" x2="551.77" y2="151.06" class="dg"/>
<line x1="531.37" y1="96.24" x2="485.45" y2="86.14" class="dg"/>
<line x1="533.01" y1="89.65" x2="487.41" y2="78.28" class="dg"/>
<line x1="534.66" y1="83.05" x2="489.37" y2="70.42" class="dg"/>
<line x1="545.7" y1="66" x2="545.7" y2="120"/>
<line x1="545.7" y1="92.5" x2="627.4" y2="92.5"/>
<line x1="620.7" y1="94" x2="620.7" y2="267.9"/>
<polygon class="ar" points="620.7,94 617.55,100.1 623.85,100.1"/>
<polygon class="ar" points="620.7,267.9 617.55,261.8 623.85,261.8"/>
<line x1="620.7" y1="270.4" x2="620.7" y2="378.6"/>
<polygon class="ar" points="620.7,270.4 617.55,276.5 623.85,276.5"/>
<polygon class="ar" points="620.7,378.6 617.55,372.5 623.85,372.5"/>
<text transform="translate(615.1 182.5) rotate(-90) scale(1 1)" font-size="15.3" text-anchor="middle">H</text>
<text transform="translate(615.1 173.1) rotate(-90)" font-size="9.6" text-anchor="middle">1</text>
<text transform="translate(618.9 321.3) rotate(-90) scale(1 1)" font-size="16" text-anchor="middle">H</text>
<line x1="384.5" y1="330.3" x2="384.5" y2="401.5"/>
<line x1="602.3" y1="329.5" x2="602.3" y2="401.5"/>
<line x1="384.5" y1="398.5" x2="602.3" y2="398.5"/>
<polygon class="ar" points="384.5,398.5 390.6,395.35 390.6,401.65"/>
<polygon class="ar" points="602.3,398.5 596.2,395.35 596.2,401.65"/>
<text transform="translate(492.1 395.4) scale(1 1)" font-size="15.8" text-anchor="middle">L</text>
<line x1="470.5" y1="378.7" x2="627.4" y2="378.7"/>
<path d="M 699.5 326.5 L 691.5 326.5 Q 687.5 324.5 683.5 324.5 L 666.5 324.5 Q 657.5 324.5 657.5 333.5 L 657.5 354.5 Q 657.5 363.5 666.5 363.5 L 679.5 363.5 Q 685.5 363.5 686.5 358.5 L 699.5 358.5 Z"/>
<line x1="643.8" y1="343.3" x2="748" y2="343.3"/>
<line x1="672" y1="319.7" x2="672" y2="382"/>
<line x1="689.9" y1="319.7" x2="689.9" y2="397"/>
<line x1="686.3" y1="358.4" x2="686.3" y2="386"/>
<line x1="693.7" y1="358.4" x2="693.7" y2="386"/>
<line x1="672" y1="380.8" x2="686.3" y2="380.8"/>
<polygon class="ar" points="672,380.8 677.6,378.2 677.6,383.4"/>
<polygon class="ar" points="686.3,380.8 680.7,378.2 680.7,383.4"/>
<text transform="translate(678.3 375.5) scale(1 1)" font-size="14.7" text-anchor="middle">E</text>
<line x1="741.1" y1="344.7" x2="741.1" y2="392.6"/>
<polygon class="ar" points="741.1,344.7 737.95,350.8 744.25,350.8"/>
<polygon class="ar" points="741.1,392.6 737.95,386.5 744.25,386.5"/>
<text transform="translate(736.7 367) rotate(-90) scale(1 1)" font-size="15.3" text-anchor="middle">F</text>
<rect x="656" y="385.9" width="67.3" height="4" rx="2"/>
<rect x="643.8" y="389.9" width="93.2" height="6.5" rx="3.2"/>
<ellipse cx="658.2" cy="387.9" rx="2.2" ry="2"/>
<ellipse cx="720.4" cy="387.9" rx="2.2" ry="2"/>
<ellipse cx="647.1" cy="393.15" rx="3.3" ry="3.25"/>
<ellipse cx="733.9" cy="393.15" rx="3.3" ry="3.25"/>
<line x1="723.3" y1="387.9" x2="727" y2="387.9"/>
<line x1="639.7" y1="393.2" x2="748" y2="393.2"/>
<line x1="643.8" y1="393.2" x2="643.8" y2="413.7"/>
<line x1="737" y1="393.2" x2="737" y2="413.7"/>
<line x1="643.8" y1="411.8" x2="737" y2="411.8"/>
<polygon class="ar" points="643.8,411.8 649.9,408.65 649.9,414.95"/>
<polygon class="ar" points="737,411.8 730.9,408.65 730.9,414.95"/>
<text transform="translate(688.1 409.8) scale(0.98 1)" font-size="15.4" text-anchor="middle">W</text>
<line class="cl" x1="759.7" y1="290.1" x2="990" y2="290.1"/>
<line class="cl" x1="863.2" y1="53" x2="863.2" y2="390"/>
<line class="cl" x1="748.4" y1="141.2" x2="893.3" y2="141.2"/>
<line x1="764.8" y1="245.5" x2="961.6" y2="245.5"/>
<line x1="764.8" y1="336.1" x2="961.6" y2="336.1"/>
<line x1="764.8" y1="232" x2="764.8" y2="348.4"/>
<line x1="764.8" y1="232" x2="765.8" y2="232"/>
<line x1="765.8" y1="232" x2="765.8" y2="222.4"/>
<line x1="765.8" y1="222.4" x2="774.6" y2="222.4"/>
<line x1="774.6" y1="222.4" x2="774.6" y2="229.5"/>
<line x1="762.1" y1="229.5" x2="778.4" y2="229.5"/>
<path d="M 774.5 229.5 L 775.5 238.5 L 788.5 242.5 C 792.5 241.5 791.5 236.5 795.5 235.5 L 806.5 235.5 L 820.5 226.5 L 820.5 218.5"/>
<line x1="764.8" y1="348.4" x2="774.4" y2="348.4"/>
<line x1="762.1" y1="352.4" x2="778.4" y2="352.4"/>
<line x1="765.5" y1="355.6" x2="774.4" y2="355.6"/>
<line x1="765.5" y1="348.4" x2="765.5" y2="359.3"/>
<line x1="765.5" y1="359.3" x2="774.4" y2="359.3"/>
<line x1="774.4" y1="359.3" x2="774.4" y2="348.4"/>
<path d="M 774.5 348.5 L 774.5 344.5 C 775.5 341.5 777.5 340.5 779.5 340.5 L 787.5 339.5 C 791.5 339.5 790.5 345.5 795.5 345.5 L 804.5 345.5 L 820.5 355.5 L 820.5 362.5"/>
<line x1="794.8" y1="245.5" x2="794.8" y2="336.1"/>
<line x1="795.8" y1="245.5" x2="795.8" y2="336.1"/>
<line x1="802" y1="245.5" x2="802" y2="336.1"/>
<line x1="803.2" y1="245.5" x2="803.2" y2="336.1"/>
<line x1="805.8" y1="245.5" x2="805.8" y2="336.1"/>
<line x1="807.2" y1="245.5" x2="807.2" y2="336.1"/>
<line x1="795.5" y1="245.5" x2="795.5" y2="238.4"/>
<line x1="795.5" y1="238.4" x2="806.4" y2="238.4"/>
<line x1="795.5" y1="241.5" x2="804" y2="241.5"/>
<line x1="799" y1="238.4" x2="799" y2="245.5"/>
<line x1="802" y1="238.4" x2="802" y2="245.5"/>
<line x1="795.5" y1="336.1" x2="795.5" y2="342.1"/>
<line x1="795.5" y1="342.1" x2="806.4" y2="342.1"/>
<line x1="795.5" y1="339" x2="802" y2="339"/>
<line x1="799" y1="336.1" x2="799" y2="342.1"/>
<line x1="802" y1="336.1" x2="802" y2="342.1"/>
<path d="M 804.5 243.5 A 84.8 84.8 0 0 1 834.5 224.5"/>
<path d="M 804.5 338.5 A 84.8 84.8 0 0 0 833.5 355.5"/>
<rect x="833.2" y="220.7" width="3.8" height="4.6"/>
<rect x="833.2" y="355.6" width="3.8" height="4.2"/>
<line x1="852.4" y1="220.7" x2="830.5" y2="220.7"/>
<line x1="830.5" y1="220.7" x2="830.5" y2="207.5"/>
<line x1="838.5" y1="207.5" x2="820.8" y2="207.5"/>
<line x1="820.8" y1="207.5" x2="820.8" y2="218.2"/>
<rect x="814.3" y="208.7" width="6.5" height="10.3" rx="1.2"/>
<line x1="814.3" y1="211.5" x2="820.8" y2="211.5"/>
<line x1="814.3" y1="216.2" x2="820.8" y2="216.2"/>
<line x1="811.1" y1="213.3" x2="843.7" y2="213.3"/>
<path d="M 838.5 207.5 L 838.5 213.5 Q 838.5 217.5 843.5 217.5 Q 848.5 217.5 848.5 213.5 L 848.5 199.5"/>
<line x1="852.6" y1="359.9" x2="829.4" y2="359.9"/>
<line x1="829.4" y1="359.9" x2="829.4" y2="374"/>
<line x1="820.6" y1="374" x2="839" y2="374"/>
<rect x="814.4" y="362.4" width="6.2" height="10.8" rx="1.2"/>
<line x1="814.4" y1="365.2" x2="820.6" y2="365.2"/>
<line x1="814.4" y1="370.4" x2="820.6" y2="370.4"/>
<line x1="811.9" y1="368.1" x2="843.3" y2="368.1"/>
<path d="M 839.5 374.5 L 839.5 368.5 Q 839.5 363.5 844.5 363.5 Q 849.5 363.5 849.5 368.5 L 849.5 377.5"/>
<line x1="849.3" y1="377.4" x2="842.5" y2="377.4"/>
<line x1="842.5" y1="377.4" x2="842.5" y2="387.5"/>
<rect x="843.3" y="383.2" width="7.4" height="4.3"/>
<rect x="844.6" y="379.8" width="4.8" height="3.4"/>
<line x1="847" y1="375.5" x2="847" y2="389.5"/>
<g transform="matrix(-1 0 0 1 1726 0)">
<line x1="764.8" y1="232" x2="764.8" y2="348.4"/>
<line x1="764.8" y1="232" x2="765.8" y2="232"/>
<line x1="765.8" y1="232" x2="765.8" y2="222.4"/>
<line x1="765.8" y1="222.4" x2="774.6" y2="222.4"/>
<line x1="774.6" y1="222.4" x2="774.6" y2="229.5"/>
<line x1="762.1" y1="229.5" x2="778.4" y2="229.5"/>
<path d="M 774.5 229.5 L 775.5 238.5 L 788.5 242.5 C 792.5 241.5 791.5 236.5 795.5 235.5 L 806.5 235.5 L 820.5 226.5 L 820.5 218.5"/>
<line x1="764.8" y1="348.4" x2="774.4" y2="348.4"/>
<line x1="762.1" y1="352.4" x2="778.4" y2="352.4"/>
<line x1="765.5" y1="355.6" x2="774.4" y2="355.6"/>
<line x1="765.5" y1="348.4" x2="765.5" y2="359.3"/>
<line x1="765.5" y1="359.3" x2="774.4" y2="359.3"/>
<line x1="774.4" y1="359.3" x2="774.4" y2="348.4"/>
<path d="M 774.5 348.5 L 774.5 344.5 C 775.5 341.5 777.5 340.5 779.5 340.5 L 787.5 339.5 C 791.5 339.5 790.5 345.5 795.5 345.5 L 804.5 345.5 L 820.5 355.5 L 820.5 362.5"/>
<line x1="794.8" y1="245.5" x2="794.8" y2="336.1"/>
<line x1="795.8" y1="245.5" x2="795.8" y2="336.1"/>
<line x1="802" y1="245.5" x2="802" y2="336.1"/>
<line x1="803.2" y1="245.5" x2="803.2" y2="336.1"/>
<line x1="805.8" y1="245.5" x2="805.8" y2="336.1"/>
<line x1="807.2" y1="245.5" x2="807.2" y2="336.1"/>
<line x1="795.5" y1="245.5" x2="795.5" y2="238.4"/>
<line x1="795.5" y1="238.4" x2="806.4" y2="238.4"/>
<line x1="795.5" y1="241.5" x2="804" y2="241.5"/>
<line x1="799" y1="238.4" x2="799" y2="245.5"/>
<line x1="802" y1="238.4" x2="802" y2="245.5"/>
<line x1="795.5" y1="336.1" x2="795.5" y2="342.1"/>
<line x1="795.5" y1="342.1" x2="806.4" y2="342.1"/>
<line x1="795.5" y1="339" x2="802" y2="339"/>
<line x1="799" y1="336.1" x2="799" y2="342.1"/>
<line x1="802" y1="336.1" x2="802" y2="342.1"/>
<path d="M 804.5 243.5 A 84.8 84.8 0 0 1 834.5 224.5"/>
<path d="M 804.5 338.5 A 84.8 84.8 0 0 0 833.5 355.5"/>
<rect x="833.2" y="220.7" width="3.8" height="4.6"/>
<rect x="833.2" y="355.6" width="3.8" height="4.2"/>
<line x1="852.4" y1="220.7" x2="830.5" y2="220.7"/>
<line x1="830.5" y1="220.7" x2="830.5" y2="207.5"/>
<line x1="838.5" y1="207.5" x2="820.8" y2="207.5"/>
<line x1="820.8" y1="207.5" x2="820.8" y2="218.2"/>
<rect x="814.3" y="208.7" width="6.5" height="10.3" rx="1.2"/>
<line x1="814.3" y1="211.5" x2="820.8" y2="211.5"/>
<line x1="814.3" y1="216.2" x2="820.8" y2="216.2"/>
<line x1="811.1" y1="213.3" x2="843.7" y2="213.3"/>
<path d="M 838.5 207.5 L 838.5 213.5 Q 838.5 217.5 843.5 217.5 Q 848.5 217.5 848.5 213.5 L 848.5 199.5"/>
<line x1="852.6" y1="359.9" x2="829.4" y2="359.9"/>
<line x1="829.4" y1="359.9" x2="829.4" y2="374"/>
<line x1="820.6" y1="374" x2="839" y2="374"/>
<rect x="814.4" y="362.4" width="6.2" height="10.8" rx="1.2"/>
<line x1="814.4" y1="365.2" x2="820.6" y2="365.2"/>
<line x1="814.4" y1="370.4" x2="820.6" y2="370.4"/>
<line x1="811.9" y1="368.1" x2="843.3" y2="368.1"/>
<path d="M 839.5 374.5 L 839.5 368.5 Q 839.5 363.5 844.5 363.5 Q 849.5 363.5 849.5 368.5 L 849.5 377.5"/>
<line x1="849.3" y1="377.4" x2="842.5" y2="377.4"/>
<line x1="842.5" y1="377.4" x2="842.5" y2="387.5"/>
<rect x="843.3" y="383.2" width="7.4" height="4.3"/>
<rect x="844.6" y="379.8" width="4.8" height="3.4"/>
<line x1="847" y1="375.5" x2="847" y2="389.5"/>
</g>
<path d="M 807.5 245.5 A 77.3 77.3 0 0 1 843.5 223.5"/>
<path d="M 919.5 245.5 A 77.3 77.3 0 0 0 882.5 223.5"/>
<line x1="843.5" y1="223.7" x2="882.9" y2="223.7"/>
<path d="M 807.5 336.5 A 77.3 77.3 0 0 0 840.5 356.5"/>
<path d="M 919.5 336.5 A 77.3 77.3 0 0 1 886.5 356.5"/>
<line x1="840" y1="356.9" x2="852.6" y2="356.9"/>
<line x1="873.8" y1="356.9" x2="886.4" y2="356.9"/>
<line x1="853.6" y1="357" x2="853.6" y2="340.4"/>
<line x1="853.6" y1="340.4" x2="872.8" y2="340.4"/>
<line x1="872.8" y1="340.4" x2="872.8" y2="357"/>
<line x1="853.6" y1="342" x2="872.8" y2="342"/>
<line x1="853.6" y1="343.8" x2="872.8" y2="343.8"/>
<line x1="852.6" y1="357" x2="852.6" y2="380.3"/>
<line x1="873.8" y1="357" x2="873.8" y2="380.3"/>
<line x1="852.6" y1="377.4" x2="873.8" y2="377.4"/>
<line x1="849.3" y1="380.3" x2="877.1" y2="380.3"/>
<line x1="842.5" y1="387.5" x2="989.2" y2="387.5"/>
<line x1="852.4" y1="203" x2="852.4" y2="242.4"/>
<line x1="874" y1="203" x2="874" y2="242.4"/>
<line x1="856" y1="224" x2="856" y2="241"/>
<line x1="870.4" y1="224" x2="870.4" y2="241"/>
<line x1="852.4" y1="242.4" x2="874" y2="242.4"/>
<line x1="853.5" y1="241" x2="873" y2="241"/>
<line x1="852.4" y1="203" x2="874" y2="203"/>
<line x1="854.8" y1="203" x2="854.8" y2="138.1"/>
<line x1="854.8" y1="138.1" x2="869.4" y2="138.1"/>
<line x1="869.4" y1="138.1" x2="869.4" y2="159.8"/>
<line x1="869.4" y1="159.8" x2="872.4" y2="159.8"/>
<line x1="872.4" y1="159.8" x2="872.4" y2="203"/>
<line x1="854.8" y1="163.3" x2="872.4" y2="163.3"/>
<line x1="836.2" y1="163" x2="836.2" y2="168.5"/>
<line x1="836.2" y1="168.5" x2="824.3" y2="168.5"/>
<line x1="824.3" y1="168.5" x2="824.3" y2="158.5"/>
<line x1="824.3" y1="158.5" x2="902.7" y2="158.5"/>
<line x1="902.7" y1="158.5" x2="902.7" y2="168.5"/>
<line x1="902.7" y1="168.5" x2="893.8" y2="168.5"/>
<line x1="893.8" y1="168.5" x2="893.8" y2="163"/>
<line x1="827.8" y1="158.5" x2="827.8" y2="168.5"/>
<line x1="830.1" y1="158.5" x2="830.1" y2="168.5"/>
<line x1="836.2" y1="158.5" x2="836.2" y2="168.5"/>
<line x1="894.5" y1="158.5" x2="894.5" y2="168.5"/>
<line x1="897.9" y1="158.5" x2="897.9" y2="168.5"/>
<line x1="901.3" y1="158.5" x2="901.3" y2="168.5"/>
<line x1="832.1" y1="156.5" x2="832.1" y2="171"/>
<line x1="897.9" y1="156.5" x2="897.9" y2="171"/>
<line x1="836.2" y1="163" x2="839.7" y2="162" class="dg"/>
<rect x="839.7" y="168.5" width="4.1" height="17.8"/>
<line x1="846.8" y1="162" x2="846.8" y2="199.5"/>
<line x1="839.7" y1="162" x2="854.8" y2="162"/>
<path d="M 872.5 162.5 L 879.5 162.5 L 879.5 171.5 L 883.5 171.5 Q 884.5 168.5 887.5 167.5 L 893.5 167.5"/>
<rect x="828.3" y="182.4" width="10.8" height="17.1"/>
<line x1="830.5" y1="181.5" x2="830.5" y2="199.5"/>
<line x1="833" y1="181.5" x2="833" y2="199.5"/>
<line x1="835.5" y1="181.5" x2="835.5" y2="199.5"/>
<line x1="828.3" y1="186.5" x2="839.1" y2="186.5"/>
<line x1="828.3" y1="193" x2="839.1" y2="193"/>
<line x1="832.3" y1="180" x2="832.3" y2="201.5"/>
<line x1="839.1" y1="186.1" x2="846.5" y2="186.1"/>
<line x1="846.8" y1="183.5" x2="854.8" y2="190.4" class="dg"/>
<line x1="846.8" y1="180.4" x2="854.8" y2="180.4"/>
<rect x="839.5" y="190.2" width="10" height="3.2"/>
<path d="M 839.5 199.5 L 845.5 199.5 Q 846.5 196.5 849.5 195.5 L 851.5 195.5 L 851.5 203.5 L 854.5 203.5"/>
<rect x="878.5" y="175.6" width="10.9" height="5"/>
<rect x="880.8" y="180.6" width="6.8" height="18.9"/>
<line x1="882.5" y1="175.6" x2="882.5" y2="199.5"/>
<line x1="884.2" y1="175.6" x2="884.2" y2="199.5"/>
<line x1="886" y1="175.6" x2="886" y2="199.5"/>
<line x1="878.5" y1="178" x2="889.4" y2="178"/>
<line x1="880.8" y1="186" x2="887.6" y2="186"/>
<line x1="880.8" y1="192" x2="887.6" y2="192"/>
<rect x="887.6" y="192.1" width="10.9" height="7.4"/>
<line x1="890.5" y1="192.1" x2="890.5" y2="199.5"/>
<line x1="893" y1="192.1" x2="893" y2="199.5"/>
<line x1="895.5" y1="192.1" x2="895.5" y2="199.5"/>
<line x1="892.5" y1="189" x2="892.5" y2="201.5"/>
<path d="M 872.5 186.5 L 876.5 186.5 Q 878.5 187.5 878.5 189.5"/>
<path d="M 872.5 203.5 L 876.5 203.5 L 876.5 195.5 Q 877.5 190.5 880.5 190.5"/>
<line x1="848.8" y1="199.5" x2="848.8" y2="207.5"/>
<line x1="877.6" y1="199.5" x2="877.6" y2="207.5"/>
<line x1="828.6" y1="130.7" x2="828.6" y2="123.8"/>
<line x1="828.6" y1="123.8" x2="898" y2="123.8"/>
<line x1="898" y1="123.8" x2="898" y2="158.5"/>
<line x1="828.6" y1="152.8" x2="828.6" y2="158.5"/>
<rect x="841.5" y="121.8" width="43.5" height="2.1" fill="#444" stroke="none"/>
<path d="M 854.5 152.5 L 822.5 152.5 L 822.5 130.5 L 884.5 130.5 L 884.5 152.5 L 872.5 152.5"/>
<path d="M 884.5 132.5 L 888.5 132.5 Q 891.5 133.5 891.5 137.5 L 891.5 146.5 Q 891.5 150.5 888.5 151.5 L 884.5 151.5"/>
<line x1="888.2" y1="132.5" x2="888.2" y2="151"/>
<rect x="817.2" y="132.4" width="5.4" height="18.8"/>
<line x1="773.5" y1="153.6" x2="817.2" y2="153.6"/>
<line x1="817.2" y1="153.6" x2="817.2" y2="115"/>
<line x1="817.2" y1="115" x2="765.6" y2="115"/>
<line x1="765.6" y1="115" x2="765.6" y2="120.4"/>
<line x1="765.6" y1="120.4" x2="773.5" y2="123.8" class="dg"/>
<line x1="773.5" y1="123.8" x2="773.5" y2="153.6"/>
<circle cx="799.2" cy="133.7" r="15.4"/>
<line x1="783.8" y1="133.7" x2="814.6" y2="133.7"/>
<line x1="799.2" y1="118.3" x2="799.2" y2="149"/>
<rect x="817.2" y="116.4" width="6" height="6"/>
<line x1="819.9" y1="116.4" x2="819.9" y2="122.4"/>
<rect x="769.5" y="133" width="4" height="18.2"/>
<rect x="765" y="136.4" width="4.5" height="10.8"/>
<rect x="765.6" y="111.3" width="47.9" height="3.7"/>
<path d="M 767.5 110.5 L 767.5 75.5 Q 767.5 70.5 772.5 70.5 L 806.5 70.5 Q 810.5 70.5 810.5 75.5 L 810.5 110.5 Z"/>
<line x1="767.6" y1="110.2" x2="810.7" y2="110.2"/>
<line x1="789.4" y1="67" x2="789.4" y2="115"/>
<path d="M 798.5 70.5 L 798.5 69.5 Q 798.5 67.5 800.5 67.5 L 806.5 67.5 Q 808.5 67.5 808.5 70.5"/>
<path d="M 780.5 154.5 L 780.5 157.5 Q 781.5 159.5 783.5 159.5 L 809.5 159.5 Q 812.5 159.5 812.5 157.5 L 812.5 154.5"/>
<path d="M 783.5 159.5 L 783.5 180.5 Q 783.5 183.5 787.5 183.5 L 806.5 183.5 Q 809.5 183.5 809.5 180.5 L 809.5 159.5"/>
<line x1="797.3" y1="151.9" x2="797.3" y2="185.5"/>
<rect x="751.4" y="90.6" width="2.8" height="102.1"/>
<line x1="754.2" y1="104.5" x2="766.3" y2="130.8" class="dg"/>
<line x1="766.3" y1="130.8" x2="766.3" y2="136.4"/>
<line x1="754.2" y1="108.5" x2="764.5" y2="130.5" class="dg"/>
<line x1="754.2" y1="178.2" x2="766.3" y2="152" class="dg"/>
<line x1="766.3" y1="152" x2="766.3" y2="147.2"/>
<line x1="754.2" y1="174" x2="764.5" y2="152.5" class="dg"/>
<line x1="754.2" y1="139.8" x2="765" y2="139.8"/>
<line x1="754.2" y1="143.3" x2="765" y2="143.3"/>
<line x1="751.9" y1="53" x2="751.9" y2="90.6"/>
<line x1="751.9" y1="60.1" x2="863.2" y2="60.1"/>
<polygon class="ar" points="751.9,60.1 758,56.95 758,63.25"/>
<polygon class="ar" points="863.2,60.1 857.1,56.95 857.1,63.25"/>
<text transform="translate(803.1 55.8) scale(1 1)" font-size="16.2" text-anchor="middle">L</text>
<text transform="translate(811.4 55.8)" font-size="10.4" text-anchor="middle">1</text>
<line x1="799" y1="67.4" x2="988.2" y2="67.4"/>
<line x1="981.5" y1="68.2" x2="981.5" y2="288.8"/>
<polygon class="ar" points="981.5,68.2 978.35,74.3 984.65,74.3"/>
<polygon class="ar" points="981.5,288.8 978.35,282.7 984.65,282.7"/>
<line x1="981.5" y1="291.4" x2="981.5" y2="387.4"/>
<polygon class="ar" points="981.5,291.4 978.35,297.5 984.65,297.5"/>
<polygon class="ar" points="981.5,387.4 978.35,381.3 984.65,381.3"/>
<text transform="translate(976.9 178) rotate(-90) scale(1 1)" font-size="16.2" text-anchor="middle">H</text>
<text transform="translate(976.9 168.35) rotate(-90)" font-size="11" text-anchor="middle">2</text>
<text transform="translate(977.8 336.3) rotate(-90) scale(1 1)" font-size="15" text-anchor="middle">H</text>
<line x1="764.8" y1="348.4" x2="764.8" y2="409.6"/>
<line x1="961.6" y1="348.4" x2="961.6" y2="409.6"/>
<line x1="764.8" y1="405.3" x2="961.6" y2="405.3"/>
<polygon class="ar" points="764.8,405.3 770.9,402.15 770.9,408.45"/>
<polygon class="ar" points="961.6,405.3 955.5,402.15 955.5,408.45"/>
<text transform="translate(864.3 401.7) scale(1 1)" font-size="15.7" text-anchor="middle">L</text>
<g transform="translate(724.4 37.53) scale(0.88 0.891)" stroke-width="1.24">
<g>
<line x1="384.5" y1="222.3" x2="602.3" y2="222.3"/>
<line x1="384.5" y1="314.5" x2="602.3" y2="314.5"/>
<line x1="384.5" y1="207.5" x2="384.5" y2="330.3"/>
<rect x="385.5" y="194" width="11.8" height="13.5"/>
<line x1="385.5" y1="198" x2="397.3" y2="198"/>
<line x1="381.3" y1="203.3" x2="401.5" y2="203.3"/>
<path d="M 384.5 207.5 L 385.5 207.5"/>
<path d="M 397.5 207.5 C 397.5 213.5 398.5 218.5 402.5 218.5 L 409.5 218.5 C 412.5 218.5 412.5 211.5 415.5 210.5 L 434.5 210.5"/>
<line x1="384.5" y1="330.3" x2="396.7" y2="330.3"/>
<line x1="381.3" y1="335.5" x2="401.5" y2="335.5"/>
<line x1="385" y1="339.3" x2="396.7" y2="339.3"/>
<path d="M 384.5 330.5 L 385.5 330.5 L 385.5 345.5 L 396.5 345.5 L 396.5 325.5 C 396.5 321.5 398.5 319.5 401.5 319.5 L 407.5 319.5 C 412.5 319.5 410.5 328.5 416.5 328.5 L 433.5 328.5"/>
<line x1="414.7" y1="222.3" x2="414.7" y2="314.5"/>
<line x1="430.4" y1="222.3" x2="430.4" y2="314.5"/>
<line x1="431.7" y1="222.3" x2="431.7" y2="314.5"/>
<line x1="433.8" y1="222.3" x2="433.8" y2="314.5"/>
<line x1="435.1" y1="222.3" x2="435.1" y2="314.5"/>
<line x1="414.7" y1="222.3" x2="416.3" y2="220.5" class="dg"/>
<line x1="416.3" y1="220.5" x2="416.3" y2="213.3"/>
<line x1="416.3" y1="213.3" x2="437.2" y2="213.3"/>
<line x1="437.2" y1="213.3" x2="437.2" y2="220"/>
<line x1="416.6" y1="216.2" x2="424.7" y2="216.2"/>
<line x1="416.6" y1="218" x2="424.7" y2="218"/>
<line x1="416.6" y1="219.8" x2="424.7" y2="219.8"/>
<line x1="424.7" y1="213.3" x2="424.7" y2="222.3"/>
<line x1="424.7" y1="217.3" x2="431.5" y2="217.3"/>
<line x1="431.5" y1="217.3" x2="431.5" y2="222.3"/>
<line x1="428.5" y1="213.3" x2="428.5" y2="217.3"/>
<line x1="414.7" y1="314.5" x2="417" y2="317.5" class="dg"/>
<line x1="417" y1="317.5" x2="417" y2="324.4"/>
<line x1="417" y1="324.4" x2="437.2" y2="324.4"/>
<line x1="437.2" y1="324.4" x2="437.2" y2="318.5"/>
<line x1="417" y1="319" x2="424.7" y2="319"/>
<line x1="417" y1="320.8" x2="424.7" y2="320.8"/>
<line x1="417" y1="322.6" x2="424.7" y2="322.6"/>
<line x1="424.7" y1="317.5" x2="424.7" y2="324.4"/>
<path d="M 421.5 314.5 L 424.5 317.5 L 427.5 320.5 Q 430.5 321.5 431.5 318.5 L 431.5 314.5"/>
<line x1="428.5" y1="320.6" x2="428.5" y2="324.4"/>
<line x1="431.7" y1="318.5" x2="431.7" y2="324.4"/>
<g transform="matrix(-1 0 0 1 987 0)">
<line x1="384.5" y1="207.5" x2="384.5" y2="330.3"/>
<rect x="385.5" y="194" width="11.8" height="13.5"/>
<line x1="385.5" y1="198" x2="397.3" y2="198"/>
<line x1="381.3" y1="203.3" x2="401.5" y2="203.3"/>
<path d="M 384.5 207.5 L 385.5 207.5"/>
<path d="M 397.5 207.5 C 397.5 213.5 398.5 218.5 402.5 218.5 L 409.5 218.5 C 412.5 218.5 412.5 211.5 415.5 210.5 L 434.5 210.5"/>
<line x1="384.5" y1="330.3" x2="396.7" y2="330.3"/>
<line x1="381.3" y1="335.5" x2="401.5" y2="335.5"/>
<line x1="385" y1="339.3" x2="396.7" y2="339.3"/>
<path d="M 384.5 330.5 L 385.5 330.5 L 385.5 345.5 L 396.5 345.5 L 396.5 325.5 C 396.5 321.5 398.5 319.5 401.5 319.5 L 407.5 319.5 C 412.5 319.5 410.5 328.5 416.5 328.5 L 433.5 328.5"/>
<line x1="414.7" y1="222.3" x2="414.7" y2="314.5"/>
<line x1="430.4" y1="222.3" x2="430.4" y2="314.5"/>
<line x1="431.7" y1="222.3" x2="431.7" y2="314.5"/>
<line x1="433.8" y1="222.3" x2="433.8" y2="314.5"/>
<line x1="435.1" y1="222.3" x2="435.1" y2="314.5"/>
<line x1="414.7" y1="222.3" x2="416.3" y2="220.5" class="dg"/>
<line x1="416.3" y1="220.5" x2="416.3" y2="213.3"/>
<line x1="416.3" y1="213.3" x2="437.2" y2="213.3"/>
<line x1="437.2" y1="213.3" x2="437.2" y2="220"/>
<line x1="416.6" y1="216.2" x2="424.7" y2="216.2"/>
<line x1="416.6" y1="218" x2="424.7" y2="218"/>
<line x1="416.6" y1="219.8" x2="424.7" y2="219.8"/>
<line x1="424.7" y1="213.3" x2="424.7" y2="222.3"/>
<line x1="424.7" y1="217.3" x2="431.5" y2="217.3"/>
<line x1="431.5" y1="217.3" x2="431.5" y2="222.3"/>
<line x1="428.5" y1="213.3" x2="428.5" y2="217.3"/>
<line x1="414.7" y1="314.5" x2="417" y2="317.5" class="dg"/>
<line x1="417" y1="317.5" x2="417" y2="324.4"/>
<line x1="417" y1="324.4" x2="437.2" y2="324.4"/>
<line x1="437.2" y1="324.4" x2="437.2" y2="318.5"/>
<line x1="417" y1="319" x2="424.7" y2="319"/>
<line x1="417" y1="320.8" x2="424.7" y2="320.8"/>
<line x1="417" y1="322.6" x2="424.7" y2="322.6"/>
<line x1="424.7" y1="317.5" x2="424.7" y2="324.4"/>
<path d="M 421.5 314.5 L 424.5 317.5 L 427.5 320.5 Q 430.5 321.5 431.5 318.5 L 431.5 314.5"/>
<line x1="428.5" y1="320.6" x2="428.5" y2="324.4"/>
<line x1="431.7" y1="318.5" x2="431.7" y2="324.4"/>
</g>
<line x1="486.8" y1="259" x2="486.8" y2="276.6"/>
<line x1="499.3" y1="259" x2="499.3" y2="276.6"/>
<path d="M 434.5 222.5 A 82.8 82.8 0 0 1 552.5 222.5"/>
<path d="M 434.5 314.5 A 82.8 82.8 0 0 0 552.5 314.5"/>
<line x1="434.4" y1="210" x2="441.8" y2="203.1" class="dg"/>
<line x1="441.8" y1="203.1" x2="441.8" y2="191.1"/>
<rect x="434.4" y="179.7" width="7.4" height="11.4" rx="1.5"/>
<line x1="434.4" y1="182.5" x2="441.8" y2="182.5"/>
<line x1="434.4" y1="188.3" x2="441.8" y2="188.3"/>
<line x1="431.9" y1="185.3" x2="476.6" y2="185.3"/>
<line x1="441.8" y1="179.7" x2="441.8" y2="177.4"/>
<line x1="441.8" y1="177.4" x2="464.6" y2="177.4"/>
<line x1="453.2" y1="177.4" x2="453.2" y2="195.3"/>
<rect x="453.2" y="190.6" width="3.4" height="4.7"/>
<line x1="453.2" y1="195.3" x2="481.5" y2="195.3"/>
<line x1="459.5" y1="195.3" x2="459.5" y2="201.5"/>
<rect x="482.3" y="320.4" width="22.5" height="48" fill="#fff" stroke="none"/>
<line x1="482.3" y1="368.3" x2="482.3" y2="320.4"/>
<line x1="482.3" y1="320.4" x2="504.8" y2="320.4"/>
<line x1="504.8" y1="320.4" x2="504.8" y2="368.3"/>
<line x1="482.3" y1="321.8" x2="504.8" y2="321.8"/>
<line x1="482.3" y1="323.5" x2="504.8" y2="323.5"/>
<line x1="482.3" y1="339.3" x2="504.8" y2="339.3"/>
<line x1="482.3" y1="368.3" x2="504.8" y2="368.3"/>
<line x1="433.8" y1="328.6" x2="441.8" y2="334.9" class="dg"/>
<line x1="441.8" y1="334.9" x2="441.8" y2="347.6"/>
<rect x="434.6" y="347.6" width="6.6" height="11.4" rx="1.5"/>
<line x1="434.6" y1="350.4" x2="441.2" y2="350.4"/>
<line x1="434.6" y1="355" x2="441.2" y2="355"/>
<line x1="431.7" y1="352.7" x2="472.8" y2="352.7"/>
<path d="M 441.5 359.5 L 441.5 361.5 L 461.5 361.5 L 461.5 360.5 L 464.5 360.5 L 464.5 350.5 Q 464.5 346.5 469.5 346.5 L 473.5 346.5 Q 478.5 346.5 478.5 351.5 L 478.5 371.5"/>
<line x1="458.4" y1="333.8" x2="458.4" y2="342.2"/>
<path d="M 437.5 212.5 A 94.3 94.3 0 0 1 459.5 201.5"/>
<path d="M 549.5 212.5 A 94.3 94.3 0 0 0 506.5 196.5"/>
<path d="M 437.5 322.5 A 94.3 94.3 0 0 0 458.5 336.5"/>
<path d="M 549.5 322.5 A 94.3 94.3 0 0 1 504.5 341.5"/>
<line x1="452.3" y1="342.2" x2="482.3" y2="342.2"/>
<line x1="452.3" y1="342.2" x2="452.3" y2="361.3"/>
<rect x="452.3" y="342.2" width="3.6" height="4.4"/>
<line x1="478" y1="363" x2="469.4" y2="363"/>
<line x1="469.4" y1="363" x2="469.4" y2="378.7"/>
<line x1="478" y1="371.5" x2="482.3" y2="371.5"/>
<line x1="482.3" y1="368.3" x2="482.3" y2="371.5"/>
<line x1="504.8" y1="368.3" x2="504.8" y2="371.5"/>
<line x1="504.8" y1="371.5" x2="508.8" y2="371.5"/>
<rect x="472.2" y="363" width="4.6" height="8.5"/>
<line x1="473.7" y1="363" x2="473.7" y2="371.5"/>
<line x1="475.2" y1="363" x2="475.2" y2="371.5"/>
<rect x="469.4" y="373.8" width="10.3" height="4.9"/>
<line x1="475.1" y1="359" x2="475.1" y2="380.7"/>
<path d="M 508.5 371.5 L 508.5 350.5 Q 509.5 345.5 514.5 344.5 L 524.5 344.5"/>
<line x1="510.5" y1="363" x2="517.9" y2="363"/>
<line x1="517.9" y1="363" x2="517.9" y2="378.7"/>
<line x1="510.5" y1="363" x2="510.5" y2="371.5"/>
<rect x="508.8" y="373.8" width="9.1" height="4.9"/>
<line x1="513.4" y1="359" x2="513.4" y2="380.7"/>
<line x1="469.4" y1="378.7" x2="517.9" y2="378.7"/>
<line x1="552.2" y1="328.6" x2="554.4" y2="328.4"/>
<line x1="554.4" y1="328.4" x2="537.8" y2="338.1" class="dg"/>
<line x1="537.8" y1="338.1" x2="537.8" y2="344.4"/>
<line x1="527.2" y1="334.5" x2="527.2" y2="344.4"/>
<line x1="535" y1="339.5" x2="535" y2="344.4"/>
<rect x="524.1" y="344.4" width="12.6" height="7.4" rx="1.5"/>
<line x1="527.2" y1="344.4" x2="527.2" y2="351.8"/>
<line x1="533.6" y1="344.4" x2="533.6" y2="351.8"/>
<line x1="530.4" y1="326.1" x2="530.4" y2="354.1"/>
</g>
<line x1="450.6" y1="115.4" x2="450.6" y2="124.5"/>
<line x1="450.6" y1="124.5" x2="468.8" y2="124.5"/>
<line x1="468.8" y1="124.5" x2="468.8" y2="149.7"/>
<line x1="468.8" y1="149.7" x2="450.6" y2="149.7"/>
<line x1="450.6" y1="149.7" x2="450.6" y2="167.4"/>
<line x1="450.6" y1="167.4" x2="468.8" y2="167.4"/>
<line x1="474" y1="115.4" x2="474" y2="166.8"/>
<line x1="458.2" y1="113" x2="458.2" y2="128"/>
<path d="M 537.5 115.5 L 537.5 123.5 L 523.5 123.5 Q 519.5 124.5 519.5 128.5 L 519.5 133.5 L 514.5 133.5"/>
<line x1="514.7" y1="115.4" x2="514.7" y2="136.5"/>
<line x1="530.5" y1="113.5" x2="530.5" y2="127"/>
<line x1="483.7" y1="118" x2="504.8" y2="118"/>
<line x1="483.7" y1="118" x2="483.7" y2="173.1"/>
<line x1="504.8" y1="118" x2="504.8" y2="173.1"/>
<line x1="483.7" y1="173.1" x2="504.8" y2="173.1"/>
<line x1="483.7" y1="142" x2="479" y2="142"/>
<line x1="479" y1="142" x2="479" y2="150"/>
<line x1="479" y1="150" x2="480.3" y2="152" class="dg"/>
<line x1="480.3" y1="152" x2="480.3" y2="173.1"/>
<line x1="478.6" y1="173.1" x2="509.9" y2="173.1"/>
<line x1="478.6" y1="167.4" x2="478.6" y2="173.1"/>
<line x1="509.9" y1="167.4" x2="509.9" y2="173.1"/>
<line x1="478.6" y1="167.4" x2="483.7" y2="167.4"/>
<line x1="504.8" y1="167.4" x2="509.9" y2="167.4"/>
<line x1="478.6" y1="167.4" x2="483.7" y2="173.1" class="dg"/>
<line x1="483.7" y1="167.4" x2="478.6" y2="173.1" class="dg"/>
<line x1="504.8" y1="167.4" x2="509.9" y2="173.1" class="dg"/>
<line x1="509.9" y1="167.4" x2="504.8" y2="173.1" class="dg"/>
<line x1="504.8" y1="154.8" x2="506.5" y2="154.8"/>
<line x1="506.5" y1="154.8" x2="506.5" y2="164.5"/>
<line x1="506.5" y1="164.5" x2="509.9" y2="167.4" class="dg"/>
<rect x="462.5" y="154.8" width="17.8" height="4"/>
<rect x="466.5" y="155.8" width="5.2" height="11"/>
<line x1="469.1" y1="153" x2="469.1" y2="167.4"/>
<path d="M 480.5 158.5 L 477.5 158.5 Q 475.5 164.5 478.5 167.5"/>
<rect x="452.3" y="145.1" width="11.4" height="4.6"/>
<line x1="455" y1="145.1" x2="455" y2="149.7"/>
<line x1="458" y1="145.1" x2="458" y2="149.7"/>
<line x1="461" y1="145.1" x2="461" y2="149.7"/>
<line x1="458" y1="149.7" x2="458" y2="170.2"/>
<line x1="450.6" y1="157.1" x2="468.8" y2="157.1"/>
<rect x="512.4" y="136.5" width="12.4" height="4.6"/>
<rect x="508.8" y="141.1" width="18.2" height="3"/>
<rect x="513.9" y="144.1" width="10.9" height="21"/>
<line x1="521.3" y1="141.1" x2="521.3" y2="165.1"/>
<line x1="513.9" y1="148.6" x2="524.8" y2="148.6"/>
<line x1="513.9" y1="153.7" x2="524.8" y2="153.7"/>
<line x1="513.9" y1="158.8" x2="524.8" y2="158.8"/>
<rect x="524.8" y="157.7" width="13.1" height="7.4"/>
<line x1="530.3" y1="146.8" x2="530.3" y2="170.2"/>
<path d="M 504.5 154.5 L 506.5 154.5 Q 507.5 151.5 510.5 151.5 L 513.5 151.5"/>
<path d="M 524.5 149.5 L 527.5 149.5"/>
<path d="M 506.5 158.5 L 511.5 158.5 Q 512.5 159.5 512.5 160.5 L 512.5 165.5 L 524.5 165.5"/>
<path d="M 474.5 166.5 Q 473.5 170.5 473.5 174.5 C 473.5 178.5 477.5 178.5 476.5 182.5 L 476.5 186.5 Q 477.5 191.5 471.5 191.5 Q 464.5 191.5 464.5 186.5 L 464.5 177.5"/>
<path d="M 514.5 165.5 L 514.5 175.5 Q 514.5 178.5 510.5 180.5 L 510.5 186.5 C 510.5 190.5 512.5 192.5 516.5 193.5 C 531.5 196.5 545.5 203.5 553.5 210.5"/>
<line x1="481.5" y1="173.1" x2="481.5" y2="219.5"/>
<line x1="506.5" y1="173.1" x2="506.5" y2="219.5"/>
<line x1="486.3" y1="198" x2="486.3" y2="217.5"/>
<line x1="501.5" y1="198" x2="501.5" y2="217.5"/>
<line x1="481.5" y1="219.5" x2="506.5" y2="219.5"/>
<line x1="483" y1="217.5" x2="505" y2="217.5"/>
</g>
<line class="cl" x1="1057.8" y1="277.3" x2="1279.5" y2="277.3"/>
<line class="cl" x1="1158.5" y1="76.5" x2="1158.5" y2="377.5"/>
<line x1="1015.1" y1="119.3" x2="1291.3" y2="119.3"/>
<line x1="1096.2" y1="91" x2="1025.9" y2="91"/>
<line x1="1025.9" y1="91" x2="1025.9" y2="146"/>
<line x1="1025.9" y1="146" x2="1096.2" y2="146"/>
<line x1="1025.9" y1="109" x2="1096.2" y2="109"/>
<line x1="1025.9" y1="129.2" x2="1096.2" y2="129.2"/>
<rect x="1096.2" y="88.6" width="10.1" height="59.5"/>
<line x1="1101.4" y1="88.6" x2="1101.4" y2="148.1"/>
<line x1="1106.3" y1="100.7" x2="1210.3" y2="100.7"/>
<line x1="1106.3" y1="135.6" x2="1150.2" y2="135.6"/>
<line x1="1167.4" y1="135.6" x2="1210.3" y2="135.6"/>
<line x1="1106.3" y1="140.1" x2="1150.2" y2="140.1"/>
<line x1="1167.4" y1="140.1" x2="1210.3" y2="140.1"/>
<rect x="1210.3" y="88.6" width="9.6" height="59.5"/>
<line x1="1215.2" y1="88.6" x2="1215.2" y2="148.1"/>
<line x1="1219.9" y1="90.3" x2="1282" y2="90.3"/>
<line x1="1282" y1="90.3" x2="1282" y2="146"/>
<line x1="1282" y1="146" x2="1219.9" y2="146"/>
<line x1="1219.9" y1="107.8" x2="1282" y2="107.8"/>
<line x1="1219.9" y1="127.9" x2="1282" y2="127.9"/>
<line x1="1152.3" y1="91.9" x2="1152.3" y2="83.2"/>
<line x1="1152.3" y1="83.2" x2="1165.2" y2="83.2"/>
<line x1="1165.2" y1="83.2" x2="1165.2" y2="91.9"/>
<path d="M 1147.5 100.5 L 1147.5 95.5 Q 1147.5 91.5 1150.5 91.5 L 1166.5 91.5 Q 1169.5 91.5 1169.5 95.5 L 1169.5 100.5"/>
<line x1="1150.2" y1="119.3" x2="1150.2" y2="142.5"/>
<line x1="1152.2" y1="119.3" x2="1152.2" y2="142.5"/>
<line x1="1167.4" y1="119.3" x2="1167.4" y2="142.5"/>
<line x1="1025.9" y1="65" x2="1025.9" y2="91"/>
<line x1="1282" y1="65" x2="1282" y2="146"/>
<line x1="1025.9" y1="71.9" x2="1282" y2="71.9"/>
<polygon class="ar" points="1025.9,71.9 1032,68.75 1032,75.05"/>
<polygon class="ar" points="1282,71.9 1275.9,68.75 1275.9,75.05"/>
<text transform="translate(1155 66.8) scale(1 1)" font-size="16.3" text-anchor="middle">L</text>
<text transform="translate(1163.4 66.8)" font-size="11.5" text-anchor="middle">2</text>
<line x1="1152.3" y1="83.2" x2="1273.8" y2="83.2"/>
<line x1="1271.3" y1="84" x2="1271.3" y2="276.1"/>
<polygon class="ar" points="1271.3,84 1268.15,90.1 1274.45,90.1"/>
<polygon class="ar" points="1271.3,276.1 1268.15,270 1274.45,270"/>
<line x1="1271.3" y1="278.6" x2="1271.3" y2="374.8"/>
<polygon class="ar" points="1271.3,278.6 1268.15,284.7 1274.45,284.7"/>
<polygon class="ar" points="1271.3,374.8 1268.15,368.7 1274.45,368.7"/>
<text transform="translate(1267.6 182.5) rotate(-90) scale(1 1)" font-size="16" text-anchor="middle">H</text>
<text transform="translate(1267.6 173.15) rotate(-90)" font-size="10.4" text-anchor="middle">3</text>
<text transform="translate(1266.9 322.4) rotate(-90) scale(1 1)" font-size="15" text-anchor="middle">H</text>
<line x1="1137.7" y1="374.8" x2="1275.8" y2="374.8"/>
<line x1="1062.3" y1="331.8" x2="1062.3" y2="398.4"/>
<line x1="1253.9" y1="332.6" x2="1253.9" y2="398.4"/>
<line x1="1062.3" y1="392.9" x2="1253.9" y2="392.9"/>
<polygon class="ar" points="1062.3,392.9 1068.4,389.75 1068.4,396.05"/>
<polygon class="ar" points="1253.9,392.9 1247.8,389.75 1247.8,396.05"/>
<text transform="translate(1156.6 390.5) scale(1 1)" font-size="15.5" text-anchor="middle">L</text>
</g>
</svg>
</body></html>
